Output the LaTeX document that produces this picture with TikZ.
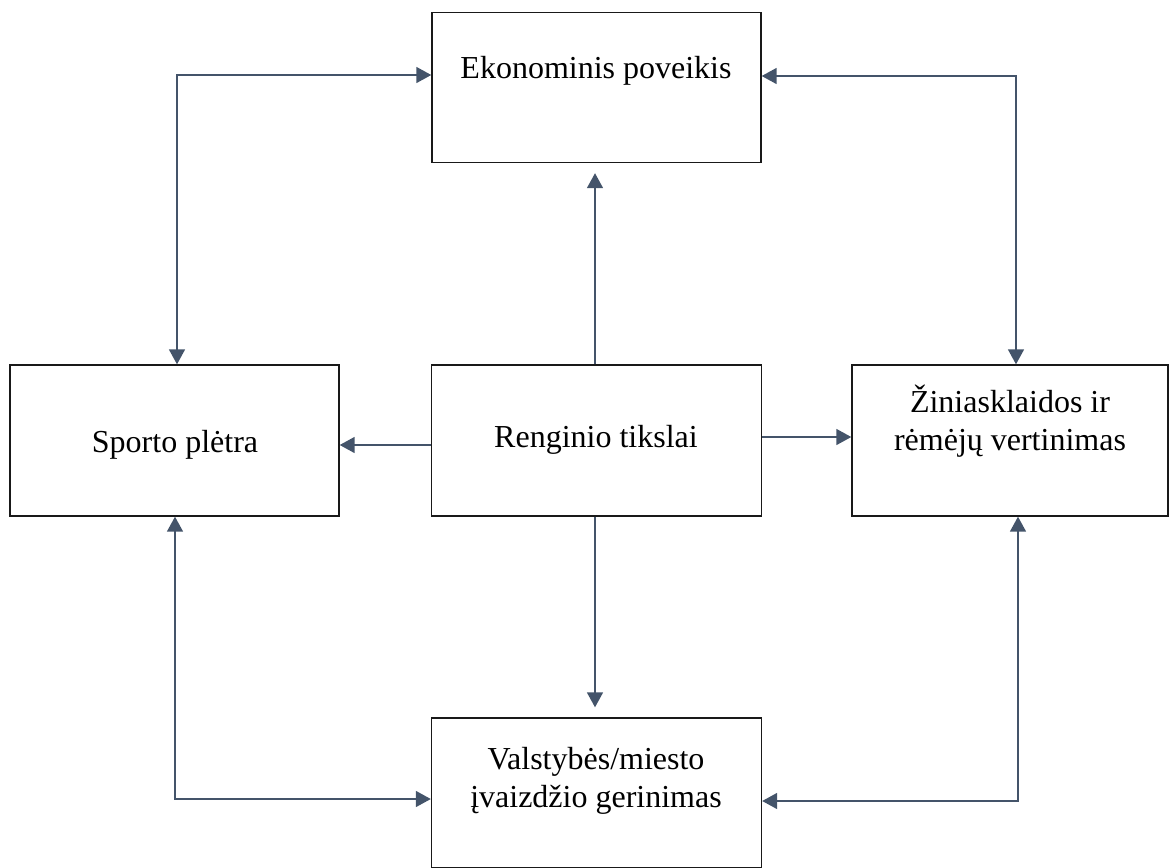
\documentclass[tikz,border=0pt]{standalone}
\usepackage{fontspec}
\setmainfont{Liberation Serif}
\usetikzlibrary{arrows.meta}
\definecolor{conn}{HTML}{44546A}
\tikzset{
  box/.style={draw=black!90, line width=1.4pt, fill=white, inner sep=0pt},
  lbl/.style={font=\fontsize{32}{38}\selectfont, align=center, anchor=base, inner sep=0pt},
  link/.style={draw=conn, line width=1.6pt, -{Triangle[length=15pt,width=16pt]}},
  dlink/.style={draw=conn, line width=1.6pt, {Triangle[length=15pt,width=16pt]}-{Triangle[length=15pt,width=16pt]}}
}
\begin{document}
\begin{tikzpicture}[x=1pt,y=-1pt]
\useasboundingbox (0,0) rectangle (1171,868);
% boxes
\node[box, minimum width=329pt, minimum height=150pt] (eko) at (596.5,87.5) {};
\node[box, minimum width=329pt, minimum height=151pt] (sp)  at (174.5,440.5) {};
\node[box, minimum width=330pt, minimum height=151pt] (ren) at (596.5,440.5) {};
\node[box, minimum width=316pt, minimum height=151pt] (zin) at (1010,440.5) {};
\node[box, minimum width=330pt, minimum height=150pt] (val) at (596.5,793) {};
% texts
\node[lbl] (ekot) at (596,78) {Ekonominis poveikis};
\node[lbl] (spt)  at (175,452) {Sporto plėtra};
\node[lbl] (rent) at (596,447) {Renginio tikslai};
\node[lbl] (zint) at (1010,450) {Žiniasklaidos ir\\rėmėjų vertinimas};
\node[lbl] (valt) at (596,807) {Valstybės/miesto\\įvaizdžio gerinimas};
% coordinates for elbows
\coordinate (tl) at (177,75);
\coordinate (tr) at (1016,76);
\coordinate (bl) at (175,799);
\coordinate (br) at (1018,801);
% straight connectors from centre
\draw[link] ([xshift=-1.5pt]ren.north) -- ([xshift=-1.5pt,yshift=-10pt]eko.south);
\draw[link] ([xshift=-1.5pt]ren.south) -- ([xshift=-1.5pt,yshift=10pt]val.north);
\draw[link] ([yshift=-4.5pt]ren.west) -- ([yshift=-4.5pt]sp.east);
\draw[link] ([yshift=3.5pt]ren.east) -- ([yshift=3.5pt]zin.west);
% elbow connectors
\draw[dlink] (eko.west |- tl) -- (tl) -- (tl |- sp.north);
\draw[dlink] (eko.east |- tr) -- (tr) -- (tr |- zin.north);
\draw[dlink] (bl |- sp.south) -- (bl) -- (val.west |- bl);
\draw[dlink] (br |- zin.south) -- (br) -- (val.east |- br);
\end{tikzpicture}
\end{document}
